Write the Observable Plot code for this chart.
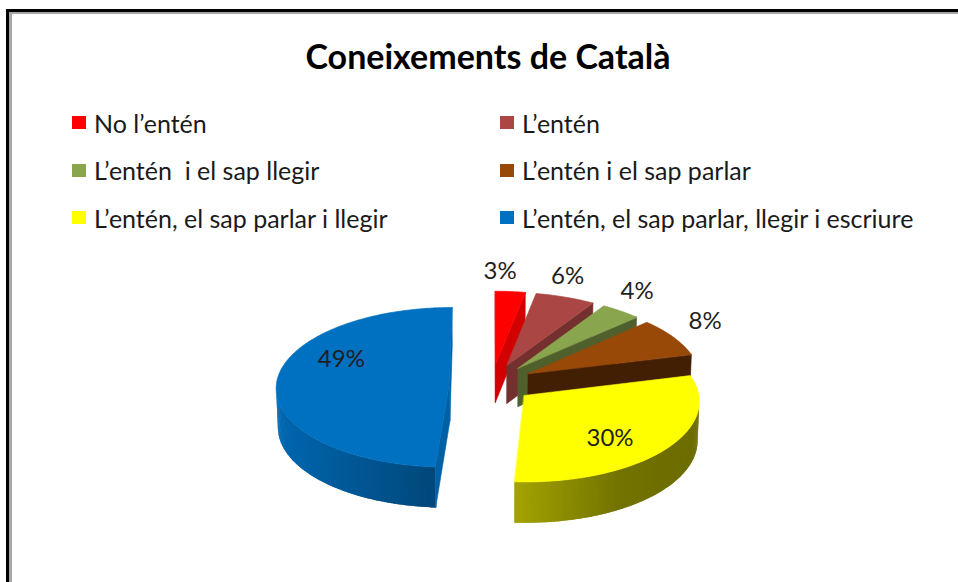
<!DOCTYPE html>
<html>
<head>
<meta charset="utf-8">
<script src="https://cdn.jsdelivr.net/npm/d3@7"></script>
<script src="https://cdn.jsdelivr.net/npm/@observablehq/plot@0.6"></script>
<style>
  html, body { margin: 0; padding: 0; background: #fff; overflow: hidden; }
  #page { position: relative; width: 958px; height: 582px; overflow: hidden; font-family: Lato, "Open Sans", sans-serif; background:#fff; }
  #frame1 { position: absolute; left: 6px; top: 9px; width: 1100px; height: 800px; border-left: 3px solid #000; border-top: 3px solid #000; }
  #frame2 { position: absolute; left: 9px; top: 12px; width: 1100px; height: 800px; border-left: 3px solid #a6a6a6; border-top: 2px solid #a6a6a6; }
  #title { position: absolute; left: 0; width: 976px; top: 36px; text-align: center; font-weight: bold; font-size: 34px; line-height: 40px; color: #000; }
  .item { position: absolute; display: flex; align-items: center; height: 30px; font-size: 25px; color: #1a1a1a; white-space: pre; }
  .sw { width: 14px; height: 13px; margin-right: 8px; flex: none; }
  #chart { position: absolute; left: 0; top: 240px; }
</style>
</head>
<body>
<div id="page">
  <div id="frame1"></div>
  <div id="frame2"></div>
  <div id="title">Coneixements de Català</div>
  <div id="legend"></div>
  <div id="chart"></div>
</div>
<script>
// ---- data ----
const categories = [
  "No l’entén",
  "L’entén",
  "L’entén  i el sap llegir",
  "L’entén i el sap parlar",
  "L’entén, el sap parlar i llegir",
  "L’entén, el sap parlar, llegir i escriure"
];
const shares = [3, 6, 4, 8, 30, 49];
const colors = ["#ff0000", "#aa4643", "#89a54e", "#984807", "#ffff00", "#0070c0"];

// ---- legend (HTML, two columns) ----
const legend = document.getElementById("legend");
categories.forEach((c, i) => {
  const col = i % 2, row = Math.floor(i / 2);
  const el = document.createElement("div");
  el.className = "item";
  el.style.left = (col ? 500 : 72) + "px";
  el.style.top = (122.5 + row * 47.5 - 15) + "px";
  const sw = document.createElement("span");
  sw.className = "sw";
  sw.style.background = colors[i];
  el.appendChild(sw);
  el.appendChild(document.createTextNode(c));
  legend.appendChild(el);
});

// ---- 3D exploded pie geometry ----
const R = 173, DEPTH = 44, EXPLODE = 42;
const SIN = 0.46, COS = Math.sqrt(1 - SIN * SIN), DIST = 2500;
function proj(X, Z, h) {
  const v = h * COS - Z * SIN;
  const d = Z * COS + h * SIN;
  const s = DIST / (DIST - d);
  return [X * s, -v * s];
}
function area(pts) {
  let a = 0;
  for (let i = 0; i < pts.length; i++) {
    const p = pts[i], q = pts[(i + 1) % pts.length];
    a += p[0] * q[1] - q[0] * p[1];
  }
  return a / 2;
}
function shade(hex, f) {
  const c = d3.rgb(hex);
  return d3.rgb(c.r * f, c.g * f, c.b * f).formatHex();
}
function sideFactor(theta) {
  const nx = Math.sin(theta);
  return nx < 0 ? 0.62 - 0.31 * nx : (nx < 0.5 ? 0.62 - 0.34 * nx : 0.45 - 0.06 * (nx - 0.5));
}
function cutFactor(normalAngle) {
  const nz = Math.max(0, -Math.cos(normalAngle));
  return 0.86 - 0.45 * Math.pow(nz, 1.5);
}

const arcs = d3.pie().sort(null).value(d => d)(shares);
const slices = arcs.map((a, i) => {
  const mid = (a.startAngle + a.endAngle) / 2;
  const ox = EXPLODE * Math.sin(mid), oz = -EXPLODE * Math.cos(mid);
  const depth = oz - 0.5 * R * Math.cos(mid);
  return {i, a0: a.startAngle, a1: a.endAngle, mid, ox, oz, depth};
});

const rows = [];
let fid = 0;
function addFace(pts, color, stroke) {
  const id = fid++;
  pts.forEach(p => rows.push({id, color, stroke, x: p[0], y: p[1]}));
}
const STEP = Math.PI / 180;
slices.slice().sort((a, b) => a.depth - b.depth).forEach(s => {
  const base = colors[s.i];
  const rim = (t, h) => proj(s.ox + R * Math.sin(t), s.oz - R * Math.cos(t), h);
  const vert = h => proj(s.ox, s.oz, h);
  // curved outer side, drawn as overlapping thin bands for a smooth gradient
  const n = Math.max(2, Math.ceil((s.a1 - s.a0) / STEP));
  const dt = (s.a1 - s.a0) / n;
  for (let k = 0; k < n; k++) {
    const t1 = s.a0 + dt * k, t2 = Math.min(s.a1, t1 + dt * 1.8);
    const q = [rim(t1, 0), rim(t2, 0), rim(t2, -DEPTH), rim(t1, -DEPTH)];
    if (area(q) < 0) {
      const col = shade(base, sideFactor(t1 + dt / 2));
      addFace(q, col, k === n - 1 || k === 0 ? col : "none");
    }
  }
  // radial cut faces
  const start = [vert(0), rim(s.a0, 0), rim(s.a0, -DEPTH), vert(-DEPTH)];
  if (area(start) < 0) { const c = shade(base, cutFactor(s.a0 - Math.PI / 2)); addFace(start, c, c); }
  const end = [vert(0), vert(-DEPTH), rim(s.a1, -DEPTH), rim(s.a1, 0)];
  if (area(end) < 0) { const c = shade(base, cutFactor(s.a1 + Math.PI / 2)); addFace(end, c, c); }
  // top face
  const top = [vert(0)];
  for (let k = 0; k <= n; k++) top.push(rim(s.a0 + dt * k, 0));
  addFace(top, base, base);
});

// labels: large slices inside the top face, small ones outside the rim
const labels = slices.map(s => {
  const inside = shares[s.i] >= 20;
  const t = inside ? s.mid + 15 * Math.PI / 180 : s.mid - 4 * Math.PI / 180;
  const r = inside ? 0.72 * R : 1.29 * R;
  const p = proj(s.ox + r * Math.sin(t), s.oz - r * Math.cos(t), 0);
  return {x: p[0] + (inside ? 9 : 0), y: p[1] + (inside ? -7 : 0), text: shares[s.i] + "%"};
});

const CX = 491, CY = 142.5, W = 958, HGT = 342;
const chart = Plot.plot({
  width: W, height: HGT,
  marginTop: 0, marginRight: 0, marginBottom: 0, marginLeft: 0,
  x: {domain: [-CX, W - CX], range: [0, W], axis: null},
  y: {domain: [-CY, HGT - CY], range: [0, HGT], axis: null},
  color: {type: "identity"},
  style: {background: "transparent", overflow: "visible"},
  marks: [
    Plot.line(rows, {x: "x", y: "y", z: "id", fill: "color", stroke: "stroke", strokeWidth: 0.6, curve: "linear-closed"}),
    Plot.text(labels, {x: "x", y: "y", text: "text", fontSize: 24, fill: "#1f1f1f", fontFamily: "Lato, 'Open Sans', sans-serif"})
  ]
});
document.getElementById("chart").appendChild(chart);
</script>
</body>
</html>
